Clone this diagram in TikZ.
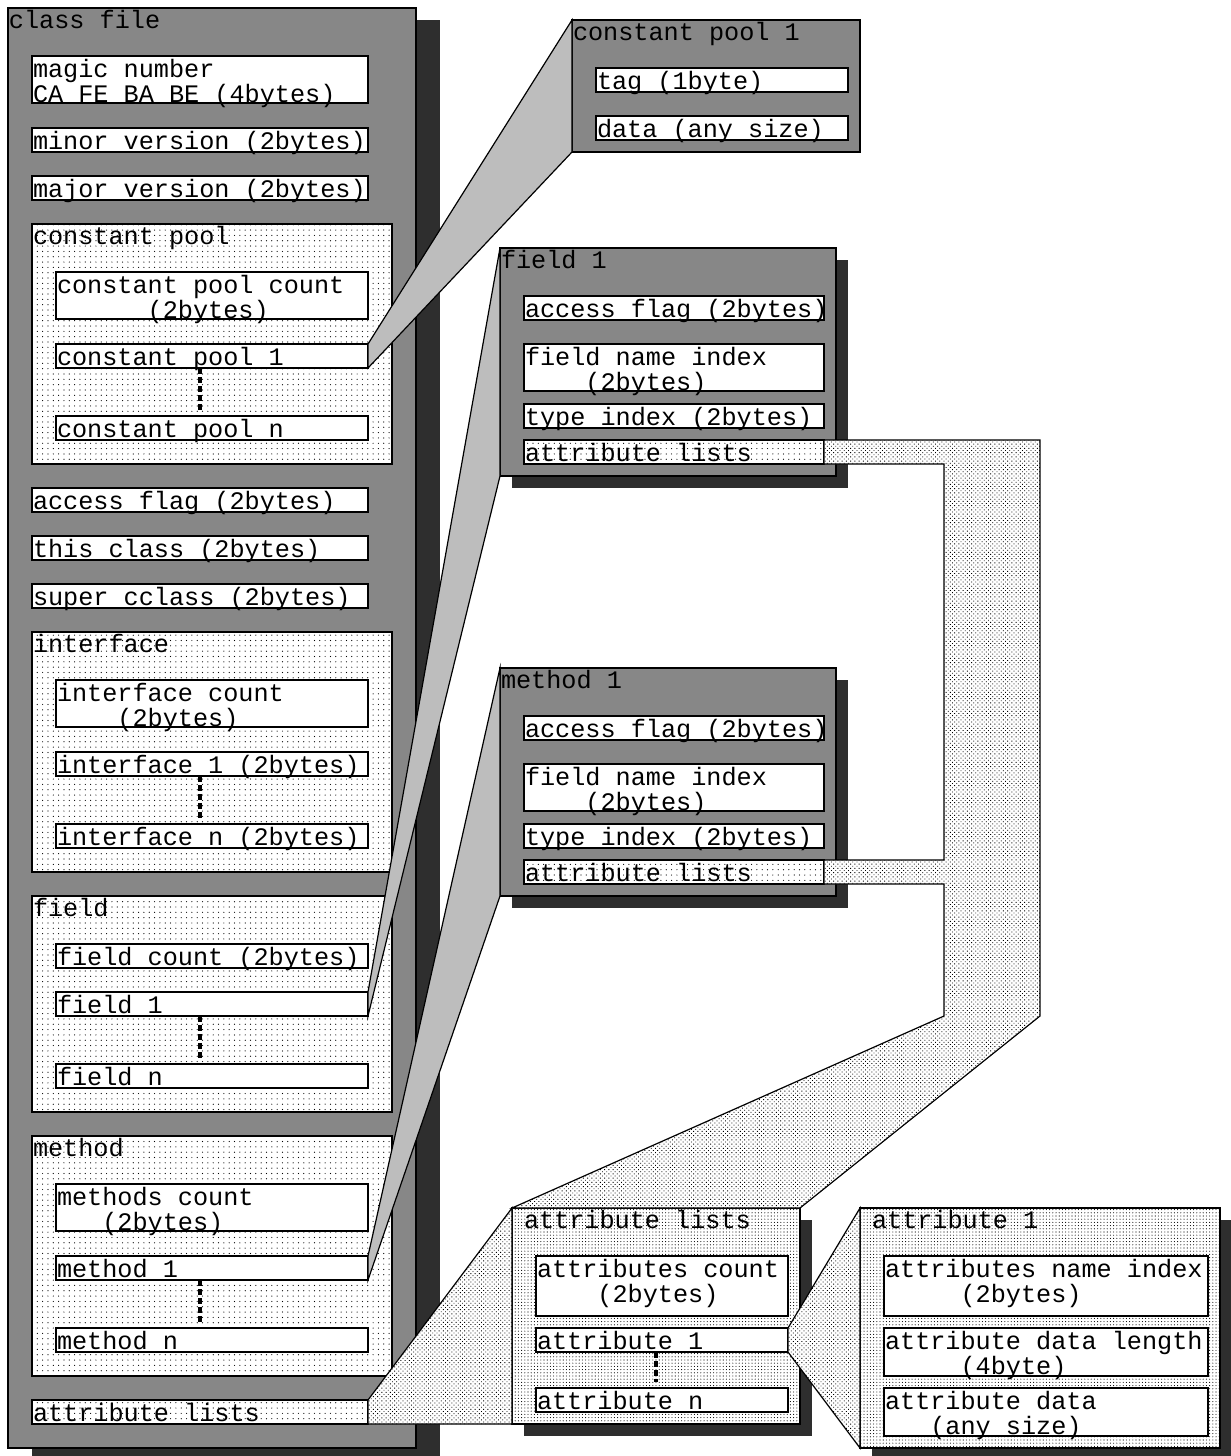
\documentclass[tikz,border=0pt]{standalone}
\usepackage{fontspec}
\newfontfamily\lmono{Liberation Mono}
\usetikzlibrary{calc,patterns.meta}

% box: name, x, y, width, height, style  (1 unit = 1pt, y grows downwards)
\newcommand\boxat[6]{\node[#6, minimum width=#4pt, minimum height=#5pt] (#1) at (#2,#3) {};}
% one line of text inside a box
\newcommand\tx[2]{\node[txt] (#1-t) at ($(#1.north west)+(1,21)$) {#2};}
% two lines of text inside a box
\newcommand\txx[3]{\node[txt] (#1-t) at ($(#1.north west)+(1,21)$) {#2};
  \node[txt] (#1-u) at ($(#1.north west)+(1,46)$) {#3};}
% caption in the upper left corner of a panel
\newcommand\ttl[3]{\node[txt] (#1-c) at ($(#1.north west)+(#2,20)$) {#3};}

\begin{document}
\begin{tikzpicture}[x=1pt,y=-1pt,
  bx/.style={rectangle, draw, line width=1.2pt, inner sep=0pt, outer sep=0pt, anchor=north west},
  whitebox/.style={bx, fill=white},
  panel/.style={bx, fill=black!47},
  shade/.style={rectangle, draw=none, fill=black!82, inner sep=0pt, outer sep=0pt, anchor=north west},
  sparse/.style={bx, preaction={fill=white}, pattern={Dots[distance=5.33pt,radius=0.6pt]}, pattern color=black},
  fine/.style={bx, preaction={fill=white}, pattern={Dots[distance=3.2pt,radius=0.55pt]}, pattern color=black},
  wedge/.style={draw, line width=1.2pt, fill=black!26, line join=miter},
  band/.style={draw, line width=1.2pt, line join=miter, preaction={fill=white}, pattern={Dots[distance=3pt,radius=0.62pt,angle=45]}, pattern color=black},
  ellipsis/.style={line width=3.2pt, dash pattern=on 6pt off 3pt},
  txt/.style={anchor=base west, inner sep=0pt, outer sep=0pt, font={\lmono\fontsize{25.2}{25}\selectfont}},
]
\useasboundingbox (0,0) rectangle (1231,1456);
\clip (0,0) rectangle (1231,1456);
\fill[white] (0,0) rectangle (1231,1456);

% ---------------- class file ----------------
\boxat{cf-sh}{32}{20}{408}{1440}{shade}
\boxat{cf}{8}{8}{408}{1440}{panel}
\boxat{magic}{32}{56}{336}{47}{whitebox}
\boxat{minor}{32}{128}{336}{24}{whitebox}
\boxat{major}{32}{176}{336}{24}{whitebox}
\boxat{cpg}{32}{224}{360}{240}{sparse}
\boxat{cpc}{56}{272}{312}{47}{whitebox}
\boxat{cp1}{56}{344}{312}{24}{whitebox}
\boxat{cpn}{56}{416}{312}{24}{whitebox}
\boxat{acc}{32}{488}{336}{24}{whitebox}
\boxat{this}{32}{536}{336}{24}{whitebox}
\boxat{super}{32}{584}{336}{24}{whitebox}
\boxat{ifg}{32}{632}{360}{240}{sparse}
\boxat{ifc}{56}{680}{312}{47}{whitebox}
\boxat{if1}{56}{752}{312}{24}{whitebox}
\boxat{ifn}{56}{824}{312}{24}{whitebox}
\boxat{fdg}{32}{896}{360}{216}{sparse}
\boxat{fdc}{56}{944}{312}{24}{whitebox}
\boxat{fd1}{56}{992}{312}{24}{whitebox}
\boxat{fdn}{56}{1064}{312}{24}{whitebox}
\boxat{mtg}{32}{1136}{360}{240}{sparse}
\boxat{mtc}{56}{1184}{312}{47}{whitebox}
\boxat{mt1}{56}{1256}{312}{24}{whitebox}
\boxat{mtn}{56}{1328}{312}{24}{whitebox}
\boxat{cfattr}{32}{1400}{336}{24}{sparse}

% ---------------- constant pool 1 ----------------
\boxat{cpbox}{572}{20}{288}{132}{panel}
\boxat{tag}{596}{68}{252}{24}{whitebox}
\boxat{data}{596}{116}{252}{24}{whitebox}

% ---------------- field 1 ----------------
\boxat{f1-sh}{512}{260}{336}{228}{shade}
\boxat{f1box}{500}{248}{336}{228}{panel}
\boxat{f1acc}{524}{296}{300}{24}{whitebox}
\boxat{f1name}{524}{344}{300}{47}{whitebox}
\boxat{f1type}{524}{404}{300}{24}{whitebox}
\boxat{f1attr}{524}{440}{300}{24}{sparse}

% ---------------- method 1 ----------------
\boxat{m1-sh}{512}{680}{336}{228}{shade}
\boxat{m1box}{500}{668}{336}{228}{panel}
\boxat{m1acc}{524}{716}{300}{24}{whitebox}
\boxat{m1name}{524}{764}{300}{47}{whitebox}
\boxat{m1type}{524}{824}{300}{24}{whitebox}
\boxat{m1attr}{524}{860}{300}{24}{sparse}

% ---------------- attribute lists ----------------
\boxat{al-sh}{524}{1220}{288}{216}{shade}
\boxat{albox}{512}{1208}{288}{216}{fine}
\boxat{alc}{536}{1256}{252}{60}{whitebox}
\boxat{al1}{536}{1328}{252}{24}{whitebox}
\boxat{aln}{536}{1388}{252}{24}{whitebox}

% ---------------- attribute 1 ----------------
\boxat{a1-sh}{872}{1220}{360}{240}{shade}
\boxat{a1box}{860}{1208}{360}{240}{fine}
\boxat{a1n}{884}{1256}{324}{60}{whitebox}
\boxat{a1l}{884}{1328}{324}{48}{whitebox}
\boxat{a1d}{884}{1388}{324}{48}{whitebox}

% ---------------- expansions ----------------
\draw[wedge] (cp1.north east) -- (cpbox.north west) -- (cpbox.south west) -- (cp1.south east) -- cycle;
\draw[wedge] (fd1.north east) -- (f1box.north west) -- (f1box.south west) -- (fd1.south east) -- cycle;
\draw[wedge] (mt1.north east) -- (m1box.north west) -- (m1box.south west) -- (mt1.south east) -- cycle;
\draw[band] (cfattr.north east) -- (albox.north west) -- (albox.south west) -- (cfattr.south east) -- cycle;
\draw[band] (al1.north east) -- (a1box.north west) -- (a1box.south west) -- (al1.south east) -- cycle;
\coordinate (bR) at (1040,1016);
\coordinate (bL) at (944,1016);
\draw[band] (f1attr.north east) -- (f1attr.north east -| bR) -- (bR) -- (albox.north east)
  -- (albox.north west) -- (bL) -- (bL |- m1attr.south east) -- (m1attr.south east)
  -- (m1attr.north east) -- (bL |- m1attr.north east) -- (bL |- f1attr.south east)
  -- (f1attr.south east) -- cycle;

% ---------------- elided entries ----------------
\draw[ellipsis] ($(cp1.south west)+(144,0)$) -- ($(cpn.north west)+(144,-6)$);
\draw[ellipsis] ($(if1.south west)+(144,0)$) -- ($(ifn.north west)+(144,-6)$);
\draw[ellipsis] ($(fd1.south west)+(144,0)$) -- ($(fdn.north west)+(144,-6)$);
\draw[ellipsis] ($(mt1.south west)+(144,0)$) -- ($(mtn.north west)+(144,-6)$);
\draw[ellipsis] ($(al1.south west)+(120,0)$) -- ($(aln.north west)+(120,-6)$);

% ---------------- texts ----------------
\ttl{cf}{1}{class file}
\txx{magic}{magic number}{CA FE BA BE (4bytes)}
\tx{minor}{minor version (2bytes)}
\tx{major}{major version (2bytes)}
\ttl{cpg}{1}{constant pool}
\txx{cpc}{constant pool count}{\phantom{000000}(2bytes)}
\tx{cp1}{constant pool 1}
\tx{cpn}{constant pool n}
\tx{acc}{access flag (2bytes)}
\tx{this}{this class (2bytes)}
\tx{super}{super cclass (2bytes)}
\ttl{ifg}{1}{interface}
\txx{ifc}{interface count}{\phantom{0000}(2bytes)}
\tx{if1}{interface 1 (2bytes)}
\tx{ifn}{interface n (2bytes)}
\ttl{fdg}{1}{field}
\tx{fdc}{field count (2bytes)}
\tx{fd1}{field 1}
\tx{fdn}{field n}
\ttl{mtg}{1}{method}
\txx{mtc}{methods count}{\phantom{000}(2bytes)}
\tx{mt1}{method 1}
\tx{mtn}{method n}
\tx{cfattr}{attribute lists}

\ttl{cpbox}{1}{constant pool 1}
\tx{tag}{tag (1byte)}
\tx{data}{data (any size)}

\ttl{f1box}{1}{field 1}
\tx{f1acc}{access flag (2bytes)}
\txx{f1name}{field name index}{\phantom{0000}(2bytes)}
\tx{f1type}{type index (2bytes)}
\tx{f1attr}{attribute lists}

\ttl{m1box}{1}{method 1}
\tx{m1acc}{access flag (2bytes)}
\txx{m1name}{field name index}{\phantom{0000}(2bytes)}
\tx{m1type}{type index (2bytes)}
\tx{m1attr}{attribute lists}

\ttl{albox}{12}{attribute lists}
\txx{alc}{attributes count}{\phantom{0000}(2bytes)}
\tx{al1}{attribute 1}
\tx{aln}{attribute n}

\ttl{a1box}{12}{attribute 1}
\txx{a1n}{attributes name index}{\phantom{00000}(2bytes)}
\txx{a1l}{attribute data length}{\phantom{00000}(4byte)}
\txx{a1d}{attribute data}{\phantom{000}(any size)}
\end{tikzpicture}
\end{document}
